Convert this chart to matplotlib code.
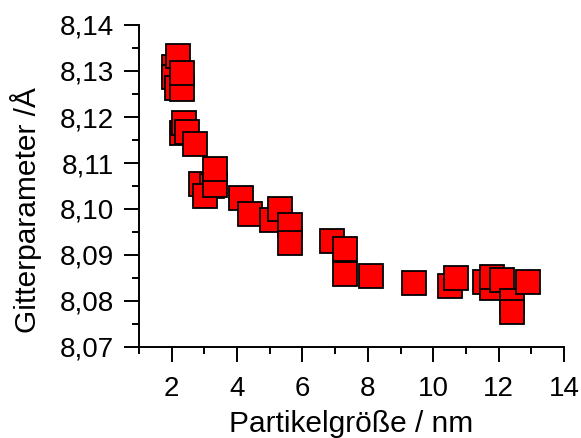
import matplotlib
matplotlib.use("Agg")
import matplotlib.pyplot as plt
from matplotlib.ticker import MultipleLocator, FuncFormatter

# Particle size (nm) and lattice parameter (Å)
particle_size = [2.07, 2.07, 2.17, 2.19, 2.30, 2.30,
                 2.30, 2.38, 2.48, 2.71,
                 2.89, 3.22, 3.01, 3.32, 3.32,
                 4.11, 4.40, 5.08, 5.32, 5.61, 5.61,
                 6.90, 7.31, 7.31,
                 8.10, 9.40, 10.51, 10.69,
                 11.59, 11.80, 11.80, 12.10, 12.41, 12.41, 12.91]
lattice_param = [8.1309, 8.1288, 8.1264, 8.1332, 8.1260, 8.1295,
                 8.1165, 8.1186, 8.1168, 8.1142,
                 8.1054, 8.1050, 8.1029, 8.1053, 8.1087,
                 8.1023, 8.0989, 8.0976, 8.1000, 8.0965, 8.0927,
                 8.0931, 8.0914, 8.0858,
                 8.0855, 8.0839, 8.0833, 8.0850,
                 8.0842, 8.0829, 8.0853, 8.0846, 8.0799, 8.0777, 8.0842]

x_major = [2, 4, 6, 8, 10, 12, 14]
y_major = [8.07, 8.08, 8.09, 8.10, 8.11, 8.12, 8.13, 8.14]

plt.rcParams['font.family'] = ['Liberation Sans', 'DejaVu Sans']

W, H = 581, 438
fig = plt.figure(figsize=(W / 100, H / 100), dpi=100)
ax = fig.add_axes([139 / W, 1 - 347 / H, (564 - 139) / W, (347 - 25) / H])

ax.plot(particle_size, lattice_param, linestyle='none', marker='s',
        markersize=17.3, markerfacecolor='#ff0000', markeredgecolor='black',
        markeredgewidth=1.3, clip_on=False)

ax.set_xlim(1, 14)
ax.set_ylim(8.07, 8.14)
ax.set_xticks(x_major)
ax.set_yticks(y_major)
ax.xaxis.set_minor_locator(MultipleLocator(1))
ax.yaxis.set_minor_locator(MultipleLocator(0.005))
ax.yaxis.set_major_formatter(FuncFormatter(lambda v, p: f"{v:.2f}".replace('.', ',')))
ax.xaxis.set_major_formatter(FuncFormatter(lambda v, p: f"{v:.0f}"))

for side in ('top', 'right'):
    ax.spines[side].set_visible(False)
for side in ('left', 'bottom'):
    ax.spines[side].set_linewidth(1.4)

ax.tick_params(which='both', direction='out', width=1.4, labelsize=20)
ax.tick_params(which='major', length=11)
ax.tick_params(which='minor', length=5)
ax.tick_params(axis='y', which='major', pad=7)
ax.tick_params(axis='x', which='major', pad=10)

ax.set_xlabel('Partikelgröße / nm', fontsize=21.5, labelpad=5.5)
ax.set_ylabel('Gitterparameter /Å', fontsize=21.5)
ax.yaxis.set_label_coords(-0.228, 0.425)

fig.savefig('out.png', dpi=100)
